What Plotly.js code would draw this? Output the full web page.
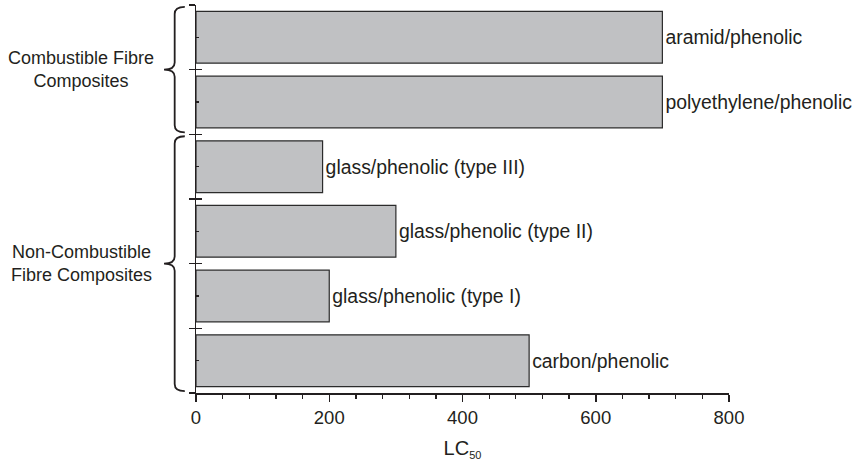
<!DOCTYPE html>
<html>
<head>
<meta charset="utf-8">
<script src="https://cdn.plot.ly/plotly-3.0.1.min.js"></script>
<style>html,body{margin:0;padding:0;background:#fff;}#chart{width:859px;height:471px;}</style>
</head>
<body>
<div id="chart"></div>
<script>
// Data (bottom to top)
var materials = ["carbon/phenolic", "glass/phenolic (type I)", "glass/phenolic (type II)", "glass/phenolic (type III)", "polyethylene/phenolic", "aramid/phenolic"];
var lc50 = [500, 200, 300, 190, 700, 700];
var positions = [0, 1, 2, 3, 4, 5];
var groupNames = ["Non-Combustible<br>Fibre Composites", "Combustible Fibre<br>Composites"];
var groupFrom = [0, 4];   // first position in group
var groupTo = [3, 5];     // last position in group
var xTickVals = [0, 200, 400, 600, 800];

var FONT = "Arial, 'Liberation Sans', Helvetica, sans-serif";
var INK = "#231f20";

var trace = {
  type: "bar",
  orientation: "h",
  x: lc50,
  y: positions,
  text: materials,
  textposition: "outside",
  cliponaxis: false,
  constraintext: "none",
  textfont: {family: FONT, size: 19.4, color: INK},
  marker: {color: "#c0c1c3", line: {color: "#2b2b2b", width: 1.2}},
  width: 0.8,
  hoverinfo: "none",
  showlegend: false
};

function brace(y0, y1) {
  // y0 bottom, y1 top in data units; x in paper units
  var xEnd = -0.021, xMid = -0.040, xTip = -0.060, r = 0.11;
  var yc = (y0 + y1) / 2;
  var p = "M " + xEnd + "," + y1 +
    " Q " + xMid + "," + y1 + " " + xMid + "," + (y1 - r) +
    " L " + xMid + "," + (yc + r) +
    " Q " + xMid + "," + yc + " " + xTip + "," + yc +
    " Q " + xMid + "," + yc + " " + xMid + "," + (yc - r) +
    " L " + xMid + "," + (y0 + r) +
    " Q " + xMid + "," + y0 + " " + xEnd + "," + y0;
  return {type: "path", xref: "paper", yref: "y", path: p, line: {color: INK, width: 1.8}};
}

var shapes = [];
var annotations = [];
for (var g = 0; g < groupNames.length; g++) {
  var lo = groupFrom[g] - 0.47, hi = groupTo[g] + 0.47;
  shapes.push(brace(lo, hi));
  annotations.push({
    xref: "paper", yref: "y", x: -0.215, y: (lo + hi) / 2,
    xanchor: "center", yanchor: "middle", align: "center",
    text: groupNames[g], showarrow: false,
    font: {family: FONT, size: 18, color: INK}
  });
}

var boundaries = [];
for (var i = 0; i <= positions.length; i++) boundaries.push(i - 0.5);

var layout = {
  width: 859, height: 471,
  margin: {l: 196, r: 130, t: 5, b: 78},
  paper_bgcolor: "#fff", plot_bgcolor: "#fff",
  font: {family: FONT, color: INK},
  xaxis: {
    range: [0, 800], tickvals: xTickVals, ticks: "outside", ticklen: 7, tickwidth: 1.5, tickcolor: INK,
    showline: true, linecolor: INK, linewidth: 1.5, showgrid: false, zeroline: false,
    tickfont: {family: FONT, size: 18.5, color: INK},
    minor: {dtick: 40, tick0: 0, ticks: "outside", ticklen: 4, tickwidth: 1.3, tickcolor: INK, showgrid: false},
    title: {text: "LC<sub><span style='font-size:11px'>50</span></sub>", font: {family: FONT, size: 20, color: INK}, standoff: 14}
  },
  yaxis: {
    range: [-0.5, 5.5], tickvals: boundaries, ticks: "outside", ticklen: 6, tickwidth: 1.5, tickcolor: INK,
    showticklabels: false, showline: true, linecolor: INK, linewidth: 1.5, showgrid: false, zeroline: false,
    minor: {tickvals: positions, ticks: "inside", ticklen: 3, tickwidth: 1.3, tickcolor: INK, showgrid: false}
  },
  yaxis2: {
    overlaying: "y", side: "left", range: [-0.5, 5.5], tickvals: boundaries, ticks: "inside", ticklen: 6,
    tickwidth: 1.5, tickcolor: INK, showticklabels: false, showline: false, showgrid: false, zeroline: false
  },
  bargap: 0.2,
  shapes: shapes,
  annotations: annotations
};

var dummy = {type: "scatter", x: [0], y: [0], yaxis: "y2", mode: "markers", marker: {opacity: 0}, hoverinfo: "none", showlegend: false};

Plotly.newPlot("chart", [trace, dummy], layout, {displayModeBar: false, staticPlot: true});
</script>
</body>
</html>
